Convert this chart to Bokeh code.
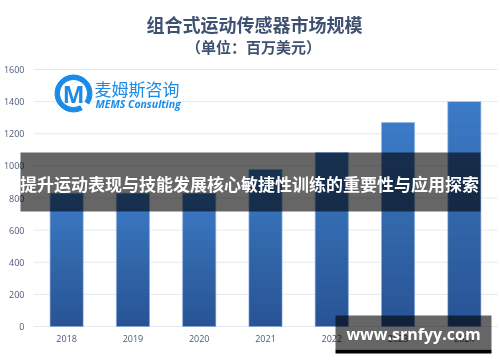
from bokeh.plotting import figure
from bokeh.models import Range1d, FixedTicker, Label, BoxAnnotation, ColumnDataSource
from bokeh.embed import file_html
from bokeh.resources import INLINE

# ---- data ----
years = ["2018", "2019", "2020", "2021", "2022", "2023", "2024"]
market = [830, 830, 830, 978, 1083, 1270, 1400]
y_ticks = [0, 200, 400, 600, 800, 1000, 1200, 1400, 1600]
title_text = "组合式运动传感器市场规模"
subtitle_text = "（单位：百万美元）"
banner_text = "提升运动表现与技能发展核心敏捷性训练的重要性与应用探索"
watermark_text = "www.srnfyy.com"
logo_cn = "麦姆斯咨询"
logo_en = "MEMS Consulting"

W, H = 500, 362
FL, FR, FT, FB = 33, 497, 69, 326  # plot-area edges in page pixels

xs = list(range(len(years)))
x0, x1 = -0.5, len(years) - 0.5
y0, y1 = 0, 1600

def px_x(px):
    return x0 + (px - FL) * (x1 - x0) / (FR - FL)

def px_y(py):
    return y0 + (FB - py) * (y1 - y0) / (FB - FT)

p = figure(width=W, height=H, x_range=Range1d(px_x(0), px_x(W)), y_range=Range1d(px_y(H), px_y(0)),
           output_backend="svg", toolbar_location=None,
           min_border_left=0, min_border_right=0, min_border_top=0, min_border_bottom=0)
p.styles = {"position": "fixed", "left": "0px", "top": "0px"}
p.outline_line_color = None
p.background_fill_color = "white"
p.border_fill_color = "white"
p.xgrid.visible = False
p.ygrid.visible = False

axis_color = "#4a5a78"
p.yaxis.fixed_location = px_x(FL)
p.yaxis.ticker = FixedTicker(ticks=y_ticks)
p.yaxis.axis_line_color = None
p.yaxis.major_tick_line_color = None
p.yaxis.minor_tick_line_color = None
p.yaxis.major_tick_out = 0
p.yaxis.major_tick_in = 0
p.yaxis.major_label_standoff = 9
p.yaxis.major_label_text_font = "Open Sans"
p.yaxis.major_label_text_font_size = "9px"
p.yaxis.major_label_text_color = axis_color

p.xaxis.fixed_location = y0
p.xaxis.ticker = FixedTicker(ticks=xs)
p.xaxis.major_label_overrides = {i: y for i, y in zip(xs, years)}
p.xaxis.axis_line_color = None
p.xaxis.major_tick_line_color = None
p.xaxis.minor_tick_line_color = None
p.xaxis.major_tick_out = 0
p.xaxis.major_tick_in = 0
p.xaxis.major_label_standoff = 8
p.xaxis.major_label_text_font = "Open Sans"
p.xaxis.major_label_text_font_size = "9px"
p.xaxis.major_label_text_color = axis_color

# horizontal grid lines at the y ticks, spanning the plot area
p.segment(x0=[x0] * len(y_ticks), x1=[x1] * len(y_ticks), y0=y_ticks, y1=y_ticks,
          line_color="#e4e9f0", line_width=1, level="underlay")

src = ColumnDataSource(dict(x=xs, top=market))
p.vbar(x="x", top="top", width=0.5, source=src, fill_color="#3b7ac7",
       line_color="#9dbbe3", line_width=1, line_alpha=0.7)
# subtle vertical shading (darker towards the base)
N = 20
for k in range(1, N):
    p.vbar(x=xs, top=[v * k / N for v in market], width=0.5, fill_color="black",
           fill_alpha=0.011, line_color=None)

# ---- logo ----
logo_blue = "#1a8be6"
p.annular_wedge(x=[px_x(73)], y=[px_y(93)], inner_radius=14, outer_radius=18.5,
                inner_radius_units="screen", outer_radius_units="screen",
                start_angle=-0.6, end_angle=5.2, color=logo_blue)
p.add_layout(Label(x=px_x(73), y=px_y(93), text="M", text_align="center", text_baseline="middle",
                   text_font="Open Sans", text_font_style="bold", text_font_size="23px",
                   text_color=logo_blue))
p.add_layout(Label(x=px_x(94), y=px_y(88), text=logo_cn, text_align="left", text_baseline="middle",
                   text_font="Noto Sans CJK SC", text_font_size="17px", text_color=logo_blue))
p.add_layout(Label(x=px_x(95), y=px_y(103), text=logo_en, text_align="left", text_baseline="middle",
                   text_font="Open Sans", text_font_style="bold italic", text_font_size="10.5px",
                   text_color=logo_blue))

# ---- titles ----
p.add_layout(Label(x=px_x(254), y=px_y(23), text=title_text, text_align="center",
                   text_baseline="middle", text_font="Noto Sans CJK SC", text_font_style="bold",
                   text_font_size="18px", text_color="#3f5170"))
p.add_layout(Label(x=px_x(253), y=px_y(46), text=subtitle_text, text_align="center",
                   text_baseline="middle", text_font="Noto Sans CJK SC", text_font_style="bold",
                   text_font_size="15px", text_color="#3f5170"))

# ---- banner overlay ----
p.add_layout(BoxAnnotation(left=px_x(20), right=px_x(480), top=px_y(152), bottom=px_y(211),
                           fill_color="black", fill_alpha=0.6, line_color=None, level="overlay"))
p.add_layout(Label(x=px_x(249), y=px_y(183), text=banner_text, text_align="center",
                   text_baseline="middle", text_font="Noto Sans CJK SC", text_font_style="bold",
                   text_font_size="17px", text_color="white", level="overlay"))

# ---- watermark ----
p.add_layout(BoxAnnotation(left=px_x(335), right=px_x(491), top=px_y(315), bottom=px_y(349),
                           fill_color="black", fill_alpha=0.6, line_color=None, level="overlay"))
p.add_layout(BoxAnnotation(left=px_x(335), right=px_x(491), top=px_y(349), bottom=px_y(353),
                           fill_color="black", fill_alpha=1.0, line_color=None, level="overlay"))
p.add_layout(Label(x=px_x(413), y=px_y(333), text=watermark_text, text_align="center",
                   text_baseline="middle", text_font="Open Sans", text_font_style="bold",
                   text_font_size="16px", text_color="white", level="overlay"))

open("out.html", "w").write(file_html(p, INLINE))
